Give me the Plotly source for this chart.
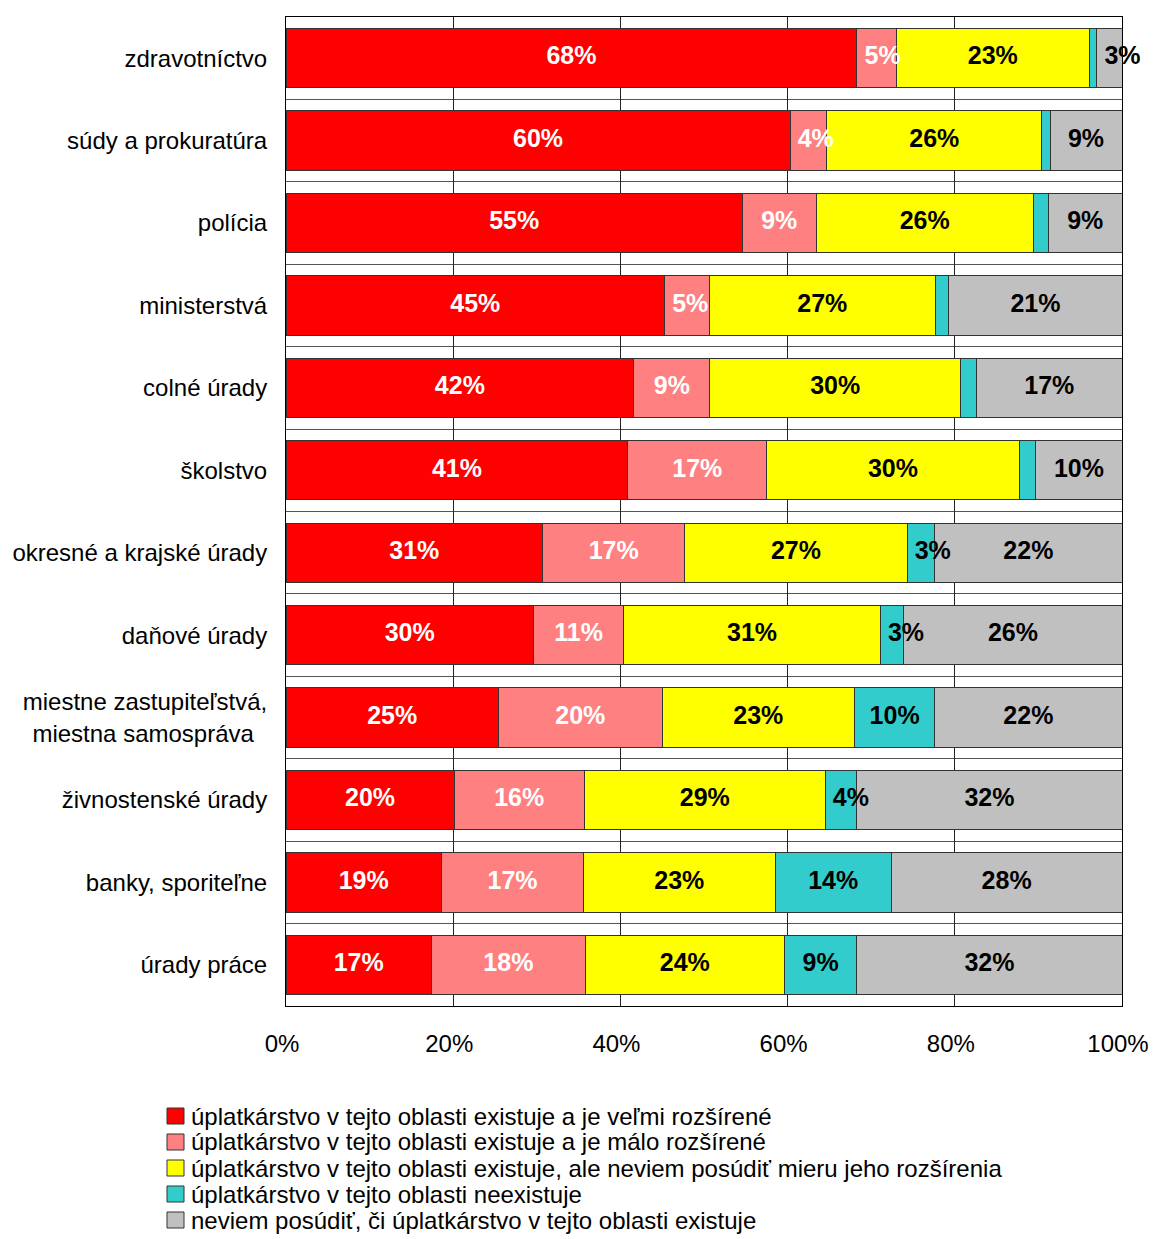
import plotly.graph_objects as go

categories = [
    "zdravotníctvo",
    "súdy a prokuratúra",
    "polícia",
    "ministerstvá",
    "colné úrady",
    "školstvo",
    "okresné a krajské úrady",
    "daňové úrady",
    "miestne zastupiteľstvá,<br>miestna samospráva\u00a0\u00a0",
    "živnostenské úrady",
    "banky, sporiteľne",
    "úrady práce",
]

series_names = [
    "úplatkárstvo v tejto oblasti existuje a je veľmi rozšírené",
    "úplatkárstvo v tejto oblasti existuje a je málo rozšírené",
    "úplatkárstvo v tejto oblasti existuje, ale neviem posúdiť mieru jeho rozšírenia",
    "úplatkárstvo v tejto oblasti neexistuje",
    "neviem posúdiť, či úplatkárstvo v tejto oblasti existuje",
]

velmi_rozsirene = [68.3, 60.3, 54.6, 45.3, 41.6, 40.9, 30.7, 29.6, 25.4, 20.1, 18.6, 17.4]
malo_rozsirene = [4.7, 4.4, 8.8, 5.3, 9.1, 16.6, 17.0, 10.8, 19.6, 15.6, 17.0, 18.4]
neviem_mieru = [23.1, 25.7, 26.0, 27.1, 30.0, 30.2, 26.6, 30.7, 23.0, 28.8, 22.9, 23.8]
neexistuje = [0.9, 1.0, 1.8, 1.6, 1.9, 2.0, 3.3, 2.8, 9.6, 3.8, 13.9, 8.7]
neviem_ci = [3.0, 8.6, 8.8, 20.7, 17.4, 10.3, 22.4, 26.1, 22.4, 31.7, 27.6, 31.7]

series_values = [velmi_rozsirene, malo_rozsirene, neviem_mieru, neexistuje, neviem_ci]
colors = ["#FF0000", "#FF8080", "#FFFF00", "#33CCCC", "#C0C0C0"]
text_colors = ["white", "white", "black", "black", "black"]

x_tickvals = [0, 20, 40, 60, 80, 100]
x_ticktext = ["0%", "20%", "40%", "60%", "80%", "100%"]

ypos = list(range(len(categories)))
FONT = "Liberation Sans, Arial, sans-serif"

# the page body has an 8px margin; figure coordinates = page coordinates - 8
OFF = 8
W, H = 1150, 1227
ML, MR, MT, MB = 278, 36, 9, 229
PW, PH = W - ML - MR, H - MT - MB

fig = go.Figure()
for name, vals, col in zip(series_names, series_values, colors):
    fig.add_trace(go.Bar(
        x=vals, y=ypos, orientation="h", name=name,
        marker=dict(color=col, line=dict(color="#333333", width=1)),
        width=0.72, hoverinfo="skip", showlegend=False,
    ))

# data labels: centred in each segment; narrow segments get the label
# starting just inside the segment (as in the original chart)
cum = [0.0] * len(categories)
for vals, tcol in zip(series_values, text_colors):
    xs, ys, ts, pos = [], [], [], []
    for i, v in enumerate(vals):
        if v < 6:
            xs.append(cum[i] + 0.9)
            pos.append("middle right")
        else:
            xs.append(cum[i] + v / 2)
            pos.append("middle center")
        ys.append(i)
        ts.append(f"{round(v)}%" if v >= 2.5 else "")
        cum[i] += v
    fig.add_trace(go.Scatter(
        x=xs, y=ys, mode="text", text=ts, textposition=pos, showlegend=False,
        textfont=dict(family=FONT, size=25, color=tcol, weight="bold"),
        cliponaxis=False, hoverinfo="skip",
    ))

# legend (drawn below the plot, in the style of the original)
def px_x(px):
    return (px - OFF - ML) / PW

def px_y(py):
    return (H - MB - (py - OFF)) / PH

shapes = []
annotations = []
for i, (name, col) in enumerate(zip(series_names, colors)):
    cy = 1116 + 26 * i
    shapes.append(dict(
        type="rect", xref="paper", yref="paper",
        x0=px_x(167), x1=px_x(184), y0=px_y(cy + 8), y1=px_y(cy - 8),
        fillcolor=col, line=dict(color="#333333", width=1), layer="above",
    ))
    annotations.append(dict(
        text=name, xref="paper", yref="paper", x=px_x(189), y=px_y(cy),
        xanchor="left", yanchor="middle", showarrow=False,
        font=dict(family=FONT, size=24, color="black"),
    ))

fig.update_layout(
    width=W, height=H,
    barmode="stack",
    plot_bgcolor="white", paper_bgcolor="white",
    margin=dict(l=ML, r=MR, t=MT, b=MB),
    font=dict(family=FONT, color="black"),
    showlegend=False,
    shapes=shapes,
    annotations=annotations,
    xaxis=dict(
        range=[0, 100], tickvals=x_tickvals, ticktext=x_ticktext,
        showgrid=True, gridcolor="#222222", gridwidth=1,
        showline=True, linecolor="black", linewidth=1, mirror=True,
        ticks="outside", ticklen=16, tickcolor="rgba(0,0,0,0)",
        tickfont=dict(family=FONT, size=24, color="black"),
        ticklabelshift=-4,
        zeroline=False, fixedrange=True, automargin=False,
    ),
    yaxis=dict(
        range=[len(categories) - 0.5, -0.5],
        tickvals=ypos, ticktext=categories,
        showgrid=False,
        showline=True, linecolor="black", linewidth=1, mirror=True,
        ticks="outside", ticklen=13, tickcolor="rgba(0,0,0,0)",
        tickfont=dict(family=FONT, size=24, color="black"),
        zeroline=False, automargin=False,
        minor=dict(tickvals=[i + 0.5 for i in range(len(categories) - 1)],
                   showgrid=True, gridcolor="#555555", gridwidth=1, ticks=""),
    ),
)

fig.write_html("out.html")
